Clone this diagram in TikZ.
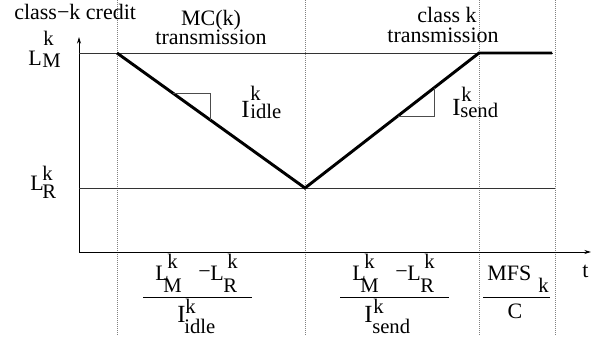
\documentclass[tikz,border=0pt]{standalone}
\usepackage{fontspec}
\setmainfont{Liberation Serif}
\usetikzlibrary{arrows.meta}
\tikzset{
  txt/.style={inner sep=0pt, anchor=base west, font=\fontsize{16.5}{18}\selectfont},
  txtc/.style={txt, anchor=base},
  scr/.style={txt, font=\fontsize{15.5}{17}\selectfont},
  bigI/.style={txt, font=\fontsize{18.5}{20}\selectfont},
  guide/.style={densely dotted, gray, line width=0.5pt},
  thinline/.style={line width=0.7pt, black!80},
  axis/.style={line width=0.7pt, black, -{Stealth[length=5pt,width=3pt]}},
  credit/.style={line width=2.2pt, black, line join=miter},
  slope/.style={line width=0.6pt, black!70},
  fbar/.style={line width=0.7pt, black}
}
\begin{document}
\begin{tikzpicture}[x=0.75pt,y=-0.75pt]
\useasboundingbox (0,0) rectangle (600,336);
% guides
\foreach \gx/\gn in {117/ga,305/gb,479/gc,555/gd}{
  \coordinate (\gn t) at (\gx,0);
  \coordinate (\gn b) at (\gx,336);
  \draw[guide] (\gn t) -- (\gn b);
}
% axes
\coordinate (O) at (79,252);
\coordinate (Ytop) at (79,37);
\coordinate (Xend) at (591,252);
\draw[axis] (O) -- (Ytop);
\draw[axis] (O) -- (Xend);
% levels
\coordinate (LMa) at (79,53);
\coordinate (LMb) at (553,53);
\coordinate (LRa) at (79,188);
\coordinate (LRb) at (555,188);
\draw[thinline] (LMa) -- (LMb);
\draw[thinline] (LRa) -- (LRb);
% credit curve
\coordinate (P1) at (117,53);
\coordinate (P2) at (305,188);
\coordinate (P3) at (479,53);
\coordinate (P4) at (552,53);
\draw[credit] (P1) -- (P2) -- (P3) -- (P4);
% slope triangles
\coordinate (T1a) at (173,93);
\coordinate (T1b) at (210,93);
\coordinate (T1c) at (210,119.5);
\draw[slope] (T1a) -- (T1b) -- (T1c);
\coordinate (T2a) at (434,88);
\coordinate (T2b) at (434,116);
\coordinate (T2c) at (398,116);
\draw[slope] (T2a) -- (T2b) -- (T2c);
% top labels
\node[txt] (ylab) at (14,19) {class−k credit};
\node[txtc] (mc) at (211,25) {MC(k)};
\node[txtc] (tr1) at (211,44) {transmission};
\node[txtc] (ck) at (447,22) {class k};
\node[txtc] (tr2) at (443,42) {transmission};
% L_M and L_R
\node[txt] (lmL) at (28,65) {L};
\node[scr] (lmk) at (43,45) {k};
\node[scr] (lmM) at (42,67) {M};
\node[txt] (lrL) at (30,190) {L};
\node[scr] (lrk) at (42,180) {k};
\node[scr] (lrR) at (42,198) {R};
% slope labels
\node[bigI] (iiI) at (241,117) {I};
\node[scr] (iik) at (250,100) {k};
\node[scr] (iis) at (250,118) {idle};
\node[bigI] (isI) at (452,115) {I};
\node[scr] (isk) at (461,101) {k};
\node[scr] (iss) at (460,117) {send};
% fraction 1
\node[txt] (f1L) at (155,280) {L};
\node[scr] (f1k) at (167,268) {k};
\node[scr] (f1M) at (163,292) {M};
\node[txt] (f1m) at (198,278) {−};
\node[txt] (f1L2) at (210,280) {L};
\node[scr] (f1k2) at (227,268) {k};
\node[scr] (f1R) at (223,292) {R};
\coordinate (b1a) at (143,297);
\coordinate (b1b) at (252,297);
\draw[fbar] (b1a) -- (b1b);
\node[bigI] (f1I) at (177,322) {I};
\node[scr] (f1dk) at (185,313) {k};
\node[scr] (f1ds) at (184,333) {idle};
% fraction 2
\node[txt] (f2L) at (352,280) {L};
\node[scr] (f2k) at (364,268) {k};
\node[scr] (f2M) at (360,292) {M};
\node[txt] (f2m) at (395,278) {−};
\node[txt] (f2L2) at (407,280) {L};
\node[scr] (f2k2) at (424,268) {k};
\node[scr] (f2R) at (420,292) {R};
\coordinate (b2a) at (340,297);
\coordinate (b2b) at (449,297);
\draw[fbar] (b2a) -- (b2b);
\node[bigI] (f2I) at (364,322) {I};
\node[scr] (f2dk) at (373,313) {k};
\node[scr] (f2ds) at (372,333) {send};
% fraction 3
\node[txt] (f3n) at (487,280) {MFS};
\node[scr] (f3k) at (538,292) {k};
\coordinate (b3a) at (483,297);
\coordinate (b3b) at (550,297);
\draw[fbar] (b3a) -- (b3b);
\node[txtc] (f3C) at (515,318) {C};
% t label
\node[txt] (tlab) at (582,277) {t};
\end{tikzpicture}
\end{document}
